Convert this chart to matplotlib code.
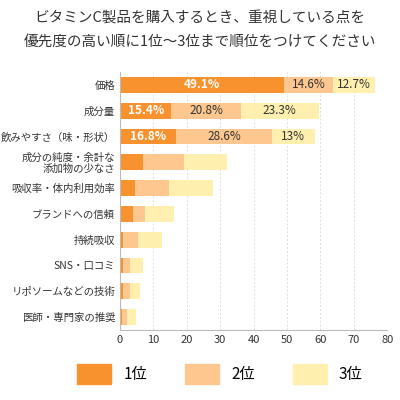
import matplotlib
matplotlib.use("Agg")
import matplotlib.pyplot as plt
from matplotlib.patches import Patch

plt.rcParams['font.family'] = ['Noto Sans CJK JP', 'DejaVu Sans']

categories = ["価格", "成分量", "飲みやすさ（味・形状）", "成分の純度・余計な\n添加物の少なさ",
              "吸収率・体内利用効率", "ブランドへの信頼", "持続吸収", "SNS・口コミ",
              "リポソームなどの技術", "医師・専門家の推奨"]
first = [49.1, 15.4, 16.8, 6.9, 4.5, 4.0, 1.0, 0.8, 1.0, 0.6]
second = [14.6, 20.8, 28.6, 12.4, 10.1, 3.6, 4.4, 2.2, 2.0, 1.5]
third = [12.7, 23.3, 13.0, 12.8, 13.2, 8.5, 7.2, 3.9, 3.0, 2.7]
labels1 = ["49.1%", "15.4%", "16.8%"]
labels2 = ["14.6%", "20.8%", "28.6%"]
labels3 = ["12.7%", "23.3%", "13%"]
colors = ["#F7922F", "#FDC78F", "#FFF0B0"]

fig = plt.figure(figsize=(4, 4), dpi=100)
ax = fig.add_axes([0.30, 0.175, 0.668, 0.645])
y = list(range(len(categories)))
ax.barh(y, first, color=colors[0], height=0.62)
ax.barh(y, second, left=first, color=colors[1], height=0.62)
left3 = [a + b for a, b in zip(first, second)]
ax.barh(y, third, left=left3, color=colors[2], height=0.62)
for i in range(3):
    ax.text(first[i] / 2, i, labels1[i], ha='center', va='center', color='white', fontsize=8.5, fontweight='bold')
    ax.text(first[i] + second[i] / 2, i, labels2[i], ha='center', va='center', color='#333333', fontsize=8.5)
    ax.text(left3[i] + third[i] / 2, i, labels3[i], ha='center', va='center', color='#333333', fontsize=8.5)
ax.set_ylim(len(categories) - 0.5, -0.5)
ax.set_xlim(0, 80)
ax.set_xticks(range(0, 81, 10))
ax.set_yticks(y)
ax.set_yticklabels(categories, fontsize=7.5, linespacing=1.1)
ax.tick_params(axis='both', length=0, labelsize=7.5, colors='#333333')
ax.tick_params(axis='x', labelsize=8)
ax.xaxis.grid(True, linestyle=(0, (2, 2)), color='#dddddd', linewidth=0.7)
ax.set_axisbelow(True)
for s in ['top', 'right']:
    ax.spines[s].set_visible(False)
ax.spines['left'].set_color('#bbbbbb')
ax.spines['bottom'].set_color('#bbbbbb')
fig.text(0.5, 0.955, "ビタミンC製品を購入するとき、重視している点を", ha='center', va='center', fontsize=10.5, color='#333333')
fig.text(0.5, 0.895, "優先度の高い順に1位〜3位まで順位をつけてください", ha='center', va='center', fontsize=10.5, color='#333333')
handles = [Patch(color=c) for c in colors]
fig.legend(handles, ["1位", "2位", "3位"], loc='center', bbox_to_anchor=(0.55, 0.065), ncol=3,
           frameon=False, fontsize=11, handlelength=2.2, handleheight=1.6, columnspacing=2.5)
fig.savefig("out.png", dpi=100)
